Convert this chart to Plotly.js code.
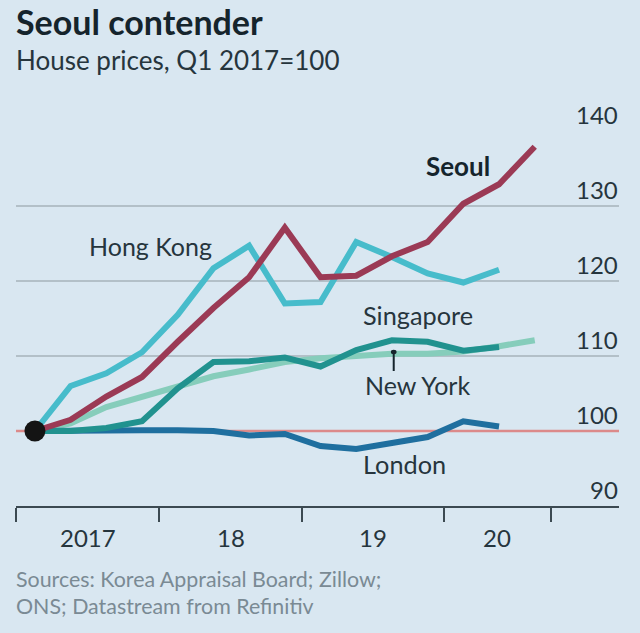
<!DOCTYPE html>
<html><head><meta charset="utf-8">
<script src="https://cdn.plot.ly/plotly-3.0.1.min.js"></script>
<style>html,body{margin:0;padding:0;background:#d9e7f1}</style></head>
<body><div id="chart" style="width:640px;height:633px"></div>
<script>
const quarters = ["Q1 2017","Q2 2017","Q3 2017","Q4 2017","Q1 2018","Q2 2018","Q3 2018","Q4 2018","Q1 2019","Q2 2019","Q3 2019","Q4 2019","Q1 2020","Q2 2020","Q3 2020"];
const seoul = [100,101.5,104.6,107.2,111.9,116.4,120.5,127.1,120.5,120.7,123.3,125.2,130.3,132.9,137.9];
const hongKong = [100,106,107.7,110.5,115.5,121.7,124.7,117,117.2,125.2,123.2,121,119.8,121.5];
const singapore = [100,100,100.4,101.3,105.7,109.2,109.3,109.8,108.6,110.8,112.1,111.9,110.7,111.2];
const newYork = [100,101,103.2,104.5,105.8,107.3,108.2,109.2,109.7,110,110.3,110.3,110.6,111.3,112.1];
const london = [100,100.1,100.1,100.1,100.1,100,99.4,99.6,98,97.6,98.4,99.2,101.3,100.6];
const yTicks = [90,100,110,120,130,140];
const xTickLabels = ["2017","18","19","20"];
const xLabelPositions = [1.48,5.48,9.48,12.95];
const xTickPositions = [-0.53,3.47,7.47,11.47,14.45];
const xRange = [-0.53,16.36];
const baseline = [100,100];
const FONT = 'Lato, sans-serif';
const bg = '#d9e7f1', ink = '#26353d';
const idx = a => a.map((_, i) => i);
const line = (name, y, color) => ({type:'scatter', mode:'lines', name, x:idx(y), y, text:quarters.slice(0,y.length),
  cliponaxis:false, line:{color, width:6, shape:'linear'}, hoverinfo:'text+y'});
const traces = [
  {type:'scatter', mode:'lines', x:xRange, y:baseline, cliponaxis:false, line:{color:'#dc8a8a', width:2.5}, hoverinfo:'skip'},
  line('New York', newYork, '#86cdbb'),
  line('London', london, '#1f6f9f'),
  line('Singapore', singapore, '#21928f'),
  line('Hong Kong', hongKong, '#47bccb'),
  line('Seoul', seoul, '#9b3a55'),
  {type:'scatter', mode:'markers', x:[0], y:[100], cliponaxis:false, marker:{color:'#141414', size:21}, hoverinfo:'skip'}
];
const px = (x,y,text,size,color,extra) => Object.assign({xref:'paper',yref:'paper',x:(x-16)/603,y:(506-y)/375,text,showarrow:false,
  xshift:-2,yshift:1,xanchor:'left',yanchor:'middle',font:{family:FONT,size,color}},extra||{});
const ann = [
  px(16,22,'<b>Seoul contender</b>',34,'#15242c'),
  px(16,61,'House prices, Q1 2017=100',26,ink),
  px(16,580,'Sources: Korea Appraisal Board; Zillow;',21.4,'#7a8a94'),
  px(16,607,'ONS; Datastream from Refinitiv',21.4,'#7a8a94'),
  px(89,247,'Hong Kong',25,ink),
  px(426,167,'<b>Seoul</b>',26,'#15242c'),
  px(363,316,'Singapore',25.3,ink),
  px(365,386,'New York',25,ink),
  px(363,465,'London',25.3,ink)
];
yTicks.forEach(v => ann.push({xref:'paper',yref:'y',x:1,y:v,text:String(v),showarrow:false,xanchor:'right',yanchor:'bottom',yshift:0,xshift:1,
  font:{family:FONT,size:24,color:ink}}));
xTickLabels.forEach((t,i) => ann.push({xref:'x',yref:'paper',x:xLabelPositions[i],y:0,yshift:-31,text:t,showarrow:false,xanchor:'center',yanchor:'middle',
  font:{family:FONT,size:24,color:ink}}));
const shapes = [{type:'line',xref:'x',yref:'y',x0:10.05,x1:10.05,y0:110.5,y1:108,line:{color:'#15242c',width:2},layer:'above'},
  {type:'circle',xref:'x',yref:'y',x0:9.97,x1:10.13,y0:110.25,y1:110.85,fillcolor:'#15242c',line:{width:0},layer:'above'}];
Plotly.newPlot('chart', traces, {
  width:640,height:633,paper_bgcolor:bg,plot_bgcolor:bg,showlegend:false,
  margin:{l:16,r:21,t:131,b:127,pad:0},
  font:{family:FONT,color:ink},
  xaxis:{range:xRange,tickmode:'array',tickvals:xTickPositions,ticktext:xTickPositions.map(()=>''),ticks:'outside',ticklen:14,tickwidth:2,tickcolor:'#3c4a52',
    showgrid:false,zeroline:false,showline:true,linecolor:'#3c4a52',linewidth:2,fixedrange:true},
  yaxis:{range:[90,140],tickmode:'array',tickvals:yTicks,ticktext:yTicks.map(()=>''),ticks:'',showgrid:true,gridcolor:'#b3c0c8',gridwidth:2,
    zeroline:false,showline:false,fixedrange:true},
  annotations:ann,shapes
},{displayModeBar:false,staticPlot:true});
</script></body></html>
